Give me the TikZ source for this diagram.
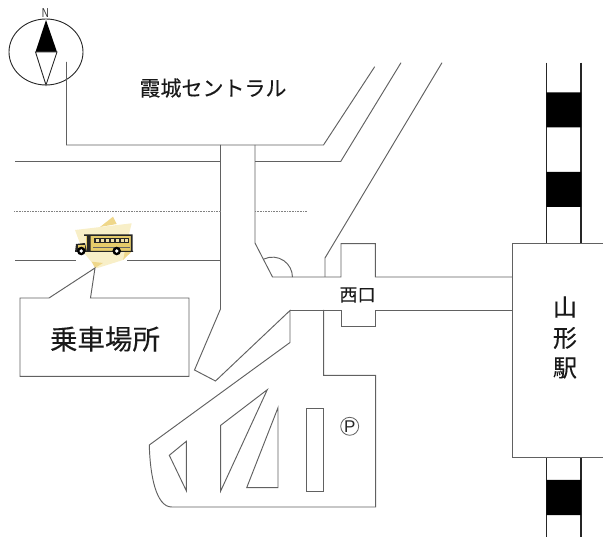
\documentclass[tikz,border=0pt]{standalone}
\usepackage{fontspec}
\setmainfont{Liberation Sans}
\newfontfamily\cjk[FakeBold=0.25]{Noto Sans CJK JP}
\definecolor{ln}{gray}{0.38}
\definecolor{busy}{HTML}{E6CC6A}
\definecolor{cream}{HTML}{F8EFC8}
\definecolor{patch}{HTML}{EFD78A}
\tikzset{
 road/.style={draw=ln,line width=0.95pt,line join=miter},
 rail/.style={draw=black!85,line width=1.2pt},
 lbl/.style={inner sep=0pt,text=black!90},
}
\begin{document}
\begin{tikzpicture}[x=1pt,y=-1pt]
\useasboundingbox (0,0) rectangle (603,537);
% compass
\draw[black!85,line width=0.9pt] (46,52) ellipse [x radius=37,y radius=33];
\fill[black] (46,20) -- (35.5,52) -- (57,52) -- cycle;
\draw[black!85,line width=0.9pt,fill=white] (35.5,52) -- (57,52) -- (46,85) -- cycle;
\node[inner sep=0pt,font=\fontsize{13}{13}\selectfont,text=black!80,xscale=0.75] (north) at (45.5,13) {N};
% roads
\draw[road] (66.5,62) -- (66.5,145) -- (323.5,145) -- (374.7,66.7);
\draw[road] (15,161.5) -- (220.5,161.5);
\draw[road] (255,161.5) -- (340.7,161.5) -- (401,62.7);
\draw[road] (442,62.7) -- (325,258) -- (325,277);
\draw[road] (220.5,145) -- (220.5,309) -- (194.5,370) -- (215.5,381) -- (290,310.5) -- (290,342.5) -- (149.3,445) .. controls (150,475) and (156,507) .. (171.7,507) -- (375.7,507) -- (375.7,375.3) -- (323.7,375.3) -- (323.7,310);
\draw[road] (255,145) -- (255,243) -- (272.5,277) -- (341,277) -- (341,243.7) -- (375.3,243.7) -- (375.3,277) -- (512.3,277);
\draw[road] (290,310) -- (341,310) -- (341,326.5) -- (375.3,326.5) -- (375.3,310) -- (512.3,310);
\draw[road] (264,259) arc [start angle=-115,end angle=0,radius=20];
\draw[ln!80,line width=0.8pt,dash pattern=on 1pt off 0.6pt] (14,211) -- (220.5,211) (255,211) -- (307,211);
\draw[road] (15,260.5) -- (220.5,260.5);
% parking
\draw[road] (186.3,441.3) -- (169.3,455.3) -- (186.3,490.7) -- cycle;
\draw[road] (220.7,425.3) -- (267.3,389.7) -- (220.7,491) -- cycle;
\draw[road] (278,407.7) -- (278,487.7) -- (246.7,487.7) -- cycle;
\draw[road] (306.3,408.7) rectangle (323.7,491.3);
\node[circle,draw=ln,line width=0.8pt,minimum size=18pt,inner sep=0pt,font=\fontsize{17}{17}\selectfont,text=black!85] (park) at (349.7,426.3) {P};
% station and rails
\draw[rail] (546.3,62.7) -- (546.3,243.3) (581,62.7) -- (581,243.3);
\draw[rail] (546.3,457.7) -- (546.3,537) (581,457.7) -- (581,537);
\fill[black] (546.3,92.3) rectangle (581,127.5) (546.3,172) rectangle (581,207) (546.3,480) rectangle (581,515);
\draw[road,fill=white] (604,243.3) -- (512.3,243.3) -- (512.3,457.7) -- (604,457.7);
% bus backdrop
\fill[white] (76,258) rectangle (127,263);
\fill[patch] (113,216.7) -- (116.7,224) -- (100,227) -- cycle;
\fill[patch] (125,240) -- (131.7,251.7) -- (123,260) -- cycle;
\fill[cream] (75,230) -- (131.7,223.3) -- (125,250) -- (123,260) -- (96.7,268.3) -- (83,251.7) -- cycle;
\fill[patch] (91.7,261.7) -- (103,263) -- (95,268) -- cycle;
% callout
\draw[road,fill=white] (20,298) -- (49,298) -- (95,268) -- (90.5,298) -- (189,298) -- (189,376.3) -- (20,376.3) -- cycle;
% bus
\fill[busy] (86,235.5) rectangle (132,251);
\fill[black!85] (84,234.5) rectangle (132,236) (87,235) rectangle (90.5,251) (130.8,234.5) rectangle (132.5,252) (76,250.8) rectangle (133,252);
\fill[black!85] (94,238) rectangle (129,243.5);
\foreach \q in {97,102,107,112,117,122,126.5}{\fill[busy!60!white] (\q-1.5,239) rectangle (\q+1.5,242.2);}
\draw[black!60,line width=0.4pt] (93,247) -- (130,247);
\fill[black!85] (76,244) -- (85,243) -- (87,252) -- (75,252) -- cycle;
\fill[busy] (78,245.5) rectangle (85,249.5);
\fill[black] (81.3,251) circle (4.3) (116.7,251) circle (4.3);
\fill[white] (81.3,251) circle (1.9) (116.7,251) circle (1.9);
% labels
\node[lbl,font=\cjk\fontsize{21}{21}\selectfont] (central) at (213,88) {霞城セントラル};
\node[lbl,font=\cjk\fontsize{27.5}{28}\selectfont] (stop) at (105,339) {乗車場所};
\node[lbl,font=\cjk\fontsize{18}{18}\selectfont] (west) at (357.5,295) {西口};
\node[lbl,font=\cjk\fontsize{24}{24}\selectfont] (s1) at (565,307) {山};
\node[lbl,font=\cjk\fontsize{24}{24}\selectfont] (s2) at (565,338) {形};
\node[lbl,font=\cjk\fontsize{24}{24}\selectfont] (s3) at (565,368) {駅};
\end{tikzpicture}
\end{document}
